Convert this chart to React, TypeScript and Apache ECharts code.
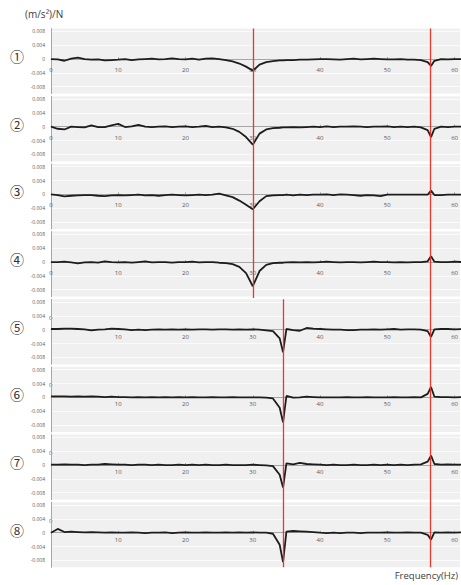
import React, { useEffect, useRef } from "react";
import * as echarts from "echarts";

// Frequency (Hz) sample points shared by all panels
const FREQ = [
  0, 1, 2, 3, 4, 5, 6, 7, 8, 9,
  10, 11, 12, 13, 14, 15, 16, 17, 18, 19,
  20, 21, 22, 23, 24, 25, 26, 27, 28, 29,
  30, 31, 32, 33, 34, 34.5, 35, 36, 37, 38,
  39, 40, 41, 42, 43, 44, 45, 46, 47, 48,
  49, 50, 51, 52, 53, 54, 55, 56, 56.5, 57,
  58, 59, 60, 61,
];

// Accelerance (m/s²)/N, panels ① .. ⑧
const P1 = [
  0, -0.0001, -0.0005, 0.0001, 0.0004, 0, -0.0002, -0.0001, -0.0004, -0.0003,
  -0.0002, 0, -0.0003, -0.0001, 0, 0.0001, -0.0001, 0, 0.0002, 0,
  -0.0001, 0.0001, -0.0002, 0.0001, 0.0002, 0, -0.0003, -0.0007, -0.0013, -0.0022,
  -0.0034, -0.0016, -0.0009, -0.0006, -0.0004, -0.0004, -0.0003, -0.0003, -0.0002, -0.0002,
  -0.0001, 0, 0, -0.0001, -0.0002, 0, 0.0001, -0.0001, 0, 0.0001,
  0, -0.0001, -0.0001, 0, -0.0002, -0.0002, -0.0003, -0.0009, -0.002, -0.0005,
  0, -0.0001, 0, 0,
];
const P2 = [
  0, -0.0006, -0.0008, 0, -0.0001, -0.0002, 0.0004, -0.0001, -0.0001, 0.0004,
  0.0008, -0.0001, 0.0001, 0.0005, 0, -0.0001, 0, 0.0001, -0.0001, 0,
  0.0001, -0.0001, 0, 0.0002, -0.0001, 0, -0.0002, -0.0006, -0.0015, -0.003,
  -0.0052, -0.002, -0.0008, -0.0004, -0.0003, -0.0002, -0.0002, -0.0001, -0.0002, -0.0001,
  0, -0.0001, 0.0001, -0.0001, 0, 0, 0.0001, 0, -0.0001, 0,
  0, 0.0001, -0.0001, 0, -0.0001, 0, -0.0002, -0.001, -0.003, -0.0006,
  0, -0.0001, 0, 0,
];
const P3 = [
  0, -0.0002, -0.0006, -0.0004, -0.0003, -0.0002, -0.0002, -0.0004, -0.0005, -0.0003,
  -0.0002, -0.0003, -0.0002, -0.0001, -0.0003, -0.0002, -0.0004, -0.0002, -0.0001, -0.0002,
  -0.0003, -0.0002, -0.0001, -0.0002, -0.0001, 0.0002, -0.0003, -0.0008, -0.0018, -0.003,
  -0.0043, -0.002, -0.0005, -0.0003, -0.0002, -0.0002, -0.0001, -0.0003, -0.0001, -0.0002,
  -0.0001, -0.0001, 0, -0.0002, 0, -0.0001, -0.0002, -0.0004, -0.0002, -0.0003,
  -0.0005, -0.0001, -0.0001, -0.0001, -0.0001, -0.0001, -0.0001, -0.0001, 0.0011, -0.0002,
  -0.0002, -0.0001, -0.0001, -0.0001,
];
const P4 = [
  0, 0, 0.0001, -0.0001, -0.0004, -0.0001, 0, -0.0002, 0.0002, 0,
  -0.0001, 0, -0.0002, 0, 0.0002, -0.0001, 0, 0, -0.0002, 0,
  0, 0.0001, -0.0001, 0, 0, -0.0002, -0.0003, -0.0006, -0.0014, -0.0032,
  -0.007, -0.0026, -0.0008, -0.0003, -0.0002, -0.0002, -0.0001, 0, -0.0001, 0,
  -0.0001, 0, 0.0001, 0, -0.0001, 0, 0, -0.0001, 0, 0.0001,
  0, 0, -0.0001, 0, -0.0001, 0, 0, 0.0002, 0.0017, 0.0001,
  0, 0, 0.0001, 0,
];
const P5 = [
  0.0002, 0.0002, 0.0003, 0.0003, 0.0002, 0.0001, -0.0002, 0, 0.0001, 0.0003,
  0.0002, 0.0001, -0.0001, 0, -0.0001, 0, 0.0001, 0, 0.0001, 0,
  0.0001, 0, 0.0001, 0.0001, 0, 0.0001, 0.0001, 0, 0.0001, 0,
  0.0001, 0, -0.0002, -0.0004, -0.0025, -0.0065, 0.0002, -0.0001, -0.0003, 0.0005,
  0.0003, 0.0002, 0.0001, 0, 0, -0.0001, -0.0001, 0, 0, 0.0001,
  0, 0.0001, 0.0002, 0, 0.0001, 0.0001, 0, -0.0004, -0.0021, 0.0001,
  0.0002, 0.0002, 0.0001, 0.0002,
];
const P6 = [
  0.0003, 0.0003, 0.0003, 0.0002, 0.0003, 0.0002, 0.0003, 0.0002, 0.0001, 0.0002,
  0.0001, 0.0001, 0, 0.0001, 0, 0.0001, 0, 0.0001, 0, 0.0001,
  0, 0.0001, 0, 0, 0.0001, 0, 0, 0.0001, 0, 0,
  0, 0, -0.0001, -0.0003, -0.003, -0.0072, 0.0004, -0.0001, 0, 0.0002,
  0.0001, 0, 0, 0, 0, 0.0001, 0, 0, 0.0001, 0,
  0, 0, 0.0001, 0, 0, 0.0001, 0, 0.001, 0.003, 0.0002,
  0.0001, 0.0001, 0, 0.0001,
];
const P7 = [
  0.0001, 0.0001, 0.0002, 0.0001, 0.0001, 0, 0.0001, 0.0001, 0.0003, 0.0002,
  0.0001, 0.0001, 0, 0.0001, 0.0001, 0, 0.0001, 0, 0, 0.0001,
  0, 0.0001, 0, 0.0001, 0, 0, 0.0001, 0, 0, 0,
  0.0001, 0, -0.0001, -0.0003, -0.0028, -0.0065, 0.0005, 0.0002, 0.0006, 0.0003,
  0.0002, 0.0001, 0, 0.0001, 0, 0, 0.0001, 0, 0, 0.0001,
  0, 0.0001, 0, 0.0001, 0, 0.0001, 0.0002, 0.001, 0.0027, 0.0003,
  0.0001, 0.0002, 0.0001, 0.0001,
];
const P8 = [
  0, 0.0011, 0.0002, 0.0003, 0.0002, 0.0001, 0.0002, 0.0001, 0, 0.0001,
  0, 0, 0.0001, 0, -0.0001, 0, 0, 0.0001, -0.0001, 0,
  0.0001, 0, 0, 0.0001, 0, 0, 0.0001, 0, 0.0001, 0,
  0.0001, 0, 0, -0.0003, -0.0035, -0.0085, 0.0003, 0.0005, 0.0004, 0.0003,
  0.0002, 0, -0.0001, 0, -0.0001, 0, 0, -0.0001, 0, 0,
  0, 0.0001, 0, 0, 0.0001, 0, 0, -0.0006, -0.002, 0.0001,
  0, 0.0001, 0, 0.0001,
];

const PANELS = [P1, P2, P3, P4, P5, P6, P7, P8];
const PANEL_NAMES = ["①", "②", "③", "④", "⑤", "⑥", "⑦", "⑧"];

// Red reference lines: frequency (Hz), from panel edge to panel edge
const RED_LINE_FREQ = [30, 34.5, 56.3];
const RED_LINE_FROM = [0, 4, 0];
const RED_LINE_TO = [3.98, 7.96, 7.96];

const Y_TITLE = "(m/s²)/N";
const X_TITLE = "Frequency(Hz)";

const W = 461;
const H = 585;
const LEFT = 51;
const TOP0 = 28.6;
const PITCH = 67.67;
const PH = 65;
const YMIN = -0.01;
const YMAX = 0.0088;
const XMAX = 60.8;
const ZERO_OFF = PH * (YMAX / (YMAX - YMIN));

export default function App() {
  const ref = useRef<HTMLDivElement>(null);
  useEffect(() => {
    if (!ref.current) return;
    const chart = echarts.init(ref.current, undefined, { renderer: "svg" });
    const grids: any[] = [];
    const xAxes: any[] = [];
    const yAxes: any[] = [];
    const series: any[] = [];
    const graphics: any[] = [];
    PANELS.forEach((vals, i) => {
      const top = TOP0 + i * PITCH;
      grids.push({
        left: LEFT,
        right: 0,
        top,
        height: PH,
        show: true,
        backgroundColor: "#f0f0f0",
        borderWidth: 0,
      });
      xAxes.push({
        type: "value",
        gridIndex: i,
        min: 0,
        max: XMAX,
        interval: 10,
        position: "bottom",
        offset: -(PH - ZERO_OFF),
        axisLine: { onZero: false, lineStyle: { color: "#a6a6a6", width: 1 } },
        axisTick: { show: true, inside: true, length: 2, lineStyle: { color: "#a6a6a6" } },
        splitLine: { show: false },
        axisLabel: {
          fontSize: 6,
          color: "#595959",
          fontFamily: "Open Sans",
          margin: i < 4 ? 8 : 4,
          showMaxLabel: false,
          formatter: (v: number) => (i >= 4 && v === 0 ? "" : String(v)),
        },
      });
      yAxes.push({
        type: "value",
        gridIndex: i,
        min: YMIN,
        max: YMAX,
        interval: 0.002,
        axisLine: { show: true, onZero: false, lineStyle: { color: "#a6a6a6", width: 1 } },
        axisTick: { show: false },
        splitLine: {
          show: true,
          lineStyle: { color: ["rgba(255,255,255,0)", "#fbfbfb"], width: 1 },
        },
        axisLabel: {
          fontSize: 5,
          color: "#595959",
          fontFamily: "Open Sans",
          margin: 6,
          formatter: (v: number) => {
            const k = Math.round(v * 1000);
            if (k % 4 !== 0 || Math.abs(k) > 8) return "";
            return k === 0 ? "0" : (k / 1000).toFixed(3);
          },
        },
      });
      series.push({
        type: "line",
        xAxisIndex: i,
        yAxisIndex: i,
        data: FREQ.map((f, j) => [f, vals[j]]),
        showSymbol: false,
        symbol: "none",
        z: 3,
        lineStyle: { color: "#1c1c1c", width: 1.8 },
      });
      graphics.push({
        type: "text",
        left: 10,
        top: top + ZERO_OFF - 10,
        style: {
          text: PANEL_NAMES[i],
          fontSize: 14,
          fontFamily: "Noto Sans CJK KR",
          fill: "#333333",
        },
      });
      if (i >= 4) {
        graphics.push({
          type: "text",
          left: LEFT - 2,
          top: top + ZERO_OFF - 15,
          style: { text: "0", fontSize: 6, fontFamily: "Open Sans", fill: "#595959" },
        });
      }
    });
    // overlay for red lines
    grids.push({ left: LEFT, right: 0, top: TOP0, height: 8 * PITCH, show: false });
    xAxes.push({ type: "value", gridIndex: 8, min: 0, max: XMAX, show: false });
    yAxes.push({ type: "value", gridIndex: 8, min: 0, max: 8, inverse: true, show: false });
    series.push({
      type: "line",
      xAxisIndex: 8,
      yAxisIndex: 8,
      data: [],
      z: 2,
      markLine: {
        silent: true,
        symbol: ["none", "none"],
        label: { show: false },
        lineStyle: { color: "#e8392f", width: 1.3, type: "solid", opacity: 1 },
        data: RED_LINE_FREQ.map((f, k) => [
          { coord: [f, RED_LINE_FROM[k]] },
          { coord: [f, RED_LINE_TO[k]] },
        ]),
      },
    });
    graphics.push({
      type: "text",
      left: 25,
      top: 9,
      style: { text: Y_TITLE, fontSize: 10, fontFamily: "Open Sans", fill: "#404040" },
    });
    graphics.push({
      type: "text",
      right: 3,
      top: 570,
      style: { text: X_TITLE, fontSize: 9.5, fontFamily: "Open Sans", fill: "#404040" },
    });
    chart.setOption({
      animation: false,
      backgroundColor: "#ffffff",
      grid: grids,
      xAxis: xAxes,
      yAxis: yAxes,
      series,
      graphic: graphics,
    });
    return () => chart.dispose();
  }, []);
  return (
    <div
      ref={ref}
      style={{ position: "fixed", left: 0, top: 0, width: W, height: H }}
    />
  );
}
